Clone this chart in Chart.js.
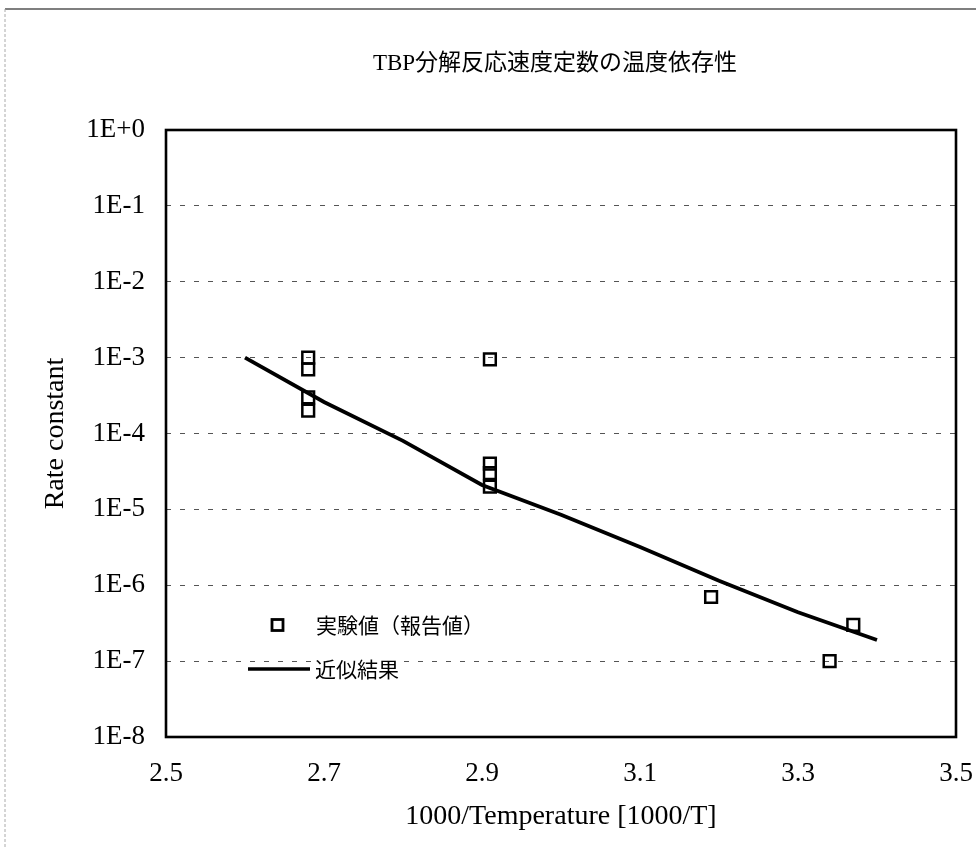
<!DOCTYPE html>
<html><head><meta charset="utf-8">
<script src="https://cdn.jsdelivr.net/npm/chart.js@4/dist/chart.umd.min.js"></script>
<style>html,body{margin:0;padding:0;background:#fff}#wrap{width:976px;height:848px;position:relative}</style>
</head><body><div id="wrap"><canvas id="c"></canvas></div>
<script>
const chartTitle = 'TBP分解反応速度定数の温度依存性';
const xAxisTitle = '1000/Temperature [1000/T]';
const yAxisTitle = 'Rate constant';
const expLabel = '実験値（報告値）';
const fitLabel = '近似結果';

const expX = [2.68, 2.68, 2.68, 2.68, 2.91, 2.91, 2.91, 2.91, 3.19, 3.34, 3.37];
const expY = [1.0e-3, 7.0e-4, 3.0e-4, 2.0e-4, 9.5e-4, 4.0e-5, 3.0e-5, 2.0e-5, 7.0e-7, 1.0e-7, 3.0e-7];

const fitX = [2.6, 2.7, 2.8, 2.9, 3.0, 3.1, 3.2, 3.3, 3.4];
const fitY = [1.0e-3, 2.6e-4, 8.0e-5, 2.1e-5, 8.5e-6, 3.2e-6, 1.15e-6, 4.4e-7, 1.9e-7];

const xTickValues = [2.5, 2.7, 2.9, 3.1, 3.3, 3.5];
const xTickLabels = ['2.5', '2.7', '2.9', '3.1', '3.3', '3.5'];
const yTickValues = [1, 1e-1, 1e-2, 1e-3, 1e-4, 1e-5, 1e-6, 1e-7, 1e-8];
const yTickLabels = ['1E+0', '1E-1', '1E-2', '1E-3', '1E-4', '1E-5', '1E-6', '1E-7', '1E-8'];

const SERIF = "'Liberation Serif', 'Noto Sans CJK JP', serif";
const CJK = "'Noto Sans CJK JP', 'Liberation Serif', sans-serif";

const decorPlugin = {
  id: 'decor',
  afterDatasetsDraw(chart) {
    const ctx = chart.ctx, a = chart.chartArea;
    const ds = chart.data.datasets;
    ctx.save();
    ctx.font = '21px ' + CJK;
    ctx.textBaseline = 'middle';
    ctx.textAlign = 'left';
    const r1y = a.top + 495, r2y = a.top + 539;
    const mx = a.left + 111.5;
    const w1 = ctx.measureText(ds[0].label).width;
    const w2 = ctx.measureText(ds[1].label).width;
    ctx.fillStyle = '#fff';
    ctx.fillRect(a.left + 149, r1y - 11, w1 + 2, 22);
    ctx.fillRect(a.left + 148, r2y - 10, w2 + 2, 21);
    ctx.strokeStyle = '#000';
    ctx.lineWidth = 2.8;
    ctx.strokeRect(mx - 5.5, r1y - 5.5, 11, 11);
    ctx.fillStyle = '#000';
    ctx.fillText(ds[0].label, a.left + 150, r1y);
    ctx.lineWidth = 3.5;
    ctx.beginPath();
    ctx.moveTo(a.left + 82, r2y);
    ctx.lineTo(a.left + 144, r2y);
    ctx.stroke();
    ctx.fillText(ds[1].label, a.left + 149, r2y);
    ctx.restore();
  },
  afterDraw(chart) {
    const ctx = chart.ctx, a = chart.chartArea;
    ctx.save();
    ctx.strokeStyle = '#000';
    ctx.lineWidth = 2.6;
    ctx.strokeRect(a.left, a.top, a.right - a.left, a.bottom - a.top);
    ctx.strokeStyle = '#555';
    ctx.lineWidth = 1.5;
    ctx.beginPath();
    ctx.moveTo(5, 9); ctx.lineTo(chart.width, 9);
    ctx.stroke();
    ctx.strokeStyle = '#aaa';
    ctx.lineWidth = 1;
    ctx.setLineDash([3, 2]);
    ctx.beginPath();
    ctx.moveTo(5, 9); ctx.lineTo(5, chart.height);
    ctx.stroke();
    ctx.setLineDash([]);
    ctx.fillStyle = '#000';
    ctx.font = '23px ' + SERIF;
    ctx.textAlign = 'center';
    ctx.textBaseline = 'middle';
    ctx.fillText(chartTitle, (a.left + a.right) / 2 - 6, 64);
    ctx.restore();
  }
};

new Chart(document.getElementById('c'), {
  type: 'scatter',
  data: {
    datasets: [
      {
        label: expLabel,
        data: expX.map((x, i) => ({ x: x, y: expY[i] })),
        showLine: false,
        pointStyle: 'rect',
        pointRadius: 8.3,
        pointHoverRadius: 8.3,
        borderWidth: 2.5,
        borderColor: '#000',
        backgroundColor: 'rgba(0,0,0,0)',
        order: 1
      },
      {
        label: fitLabel,
        data: fitX.map((x, i) => ({ x: x, y: fitY[i] })),
        showLine: true,
        pointRadius: 0,
        pointHoverRadius: 0,
        borderWidth: 3.8,
        borderColor: '#000',
        backgroundColor: '#000',
        tension: 0,
        order: 2
      }
    ]
  },
  options: {
    responsive: true,
    maintainAspectRatio: false,
    animation: false,
    layout: { padding: { top: 130, right: 20, left: 0, bottom: 0 } },
    plugins: {
      legend: { display: false },
      title: { display: false },
      tooltip: { enabled: false }
    },
    scales: {
      x: {
        type: 'linear',
        min: 2.5,
        max: 3.5,
        afterFit(s) { s.height = 111; s.paddingLeft = 0; s.paddingRight = 0; },
        afterBuildTicks(s) { s.ticks = xTickValues.map(v => ({ value: v })); },
        grid: { display: false, drawTicks: false },
        border: { display: false },
        ticks: {
          color: '#000',
          padding: 21,
          maxRotation: 0,
          autoSkip: false,
          font: { family: SERIF, size: 27 },
          callback: (v) => { const i = xTickValues.findIndex(t => Math.abs(t - v) < 1e-9); return i >= 0 ? xTickLabels[i] : ''; }
        },
        title: {
          display: true,
          text: xAxisTitle,
          color: '#000',
          font: { family: SERIF, size: 28 },
          padding: { top: 0, bottom: 15 }
        }
      },
      y: {
        type: 'logarithmic',
        min: 1e-8,
        max: 1,
        afterFit(s) { s.width = 166; s.paddingTop = 0; s.paddingBottom = 0; },
        afterBuildTicks(s) { s.ticks = yTickValues.map(v => ({ value: v })); },
        grid: {
          display: true,
          drawTicks: false,
          color: '#555',
          lineWidth: 1
        },
        border: { display: false, dash: [5, 9] },
        ticks: {
          color: '#000',
          padding: 21,
          autoSkip: false,
          font: { family: SERIF, size: 27 },
          callback: (v) => { const i = yTickValues.findIndex(t => Math.abs(Math.log10(t) - Math.log10(v)) < 1e-6); return i >= 0 ? yTickLabels[i] : ''; }
        },
        title: {
          display: true,
          text: yAxisTitle,
          color: '#000',
          font: { family: SERIF, size: 28 },
          padding: { top: 39, bottom: 0 }
        }
      }
    }
  },
  plugins: [decorPlugin]
});
</script>
</body></html>
